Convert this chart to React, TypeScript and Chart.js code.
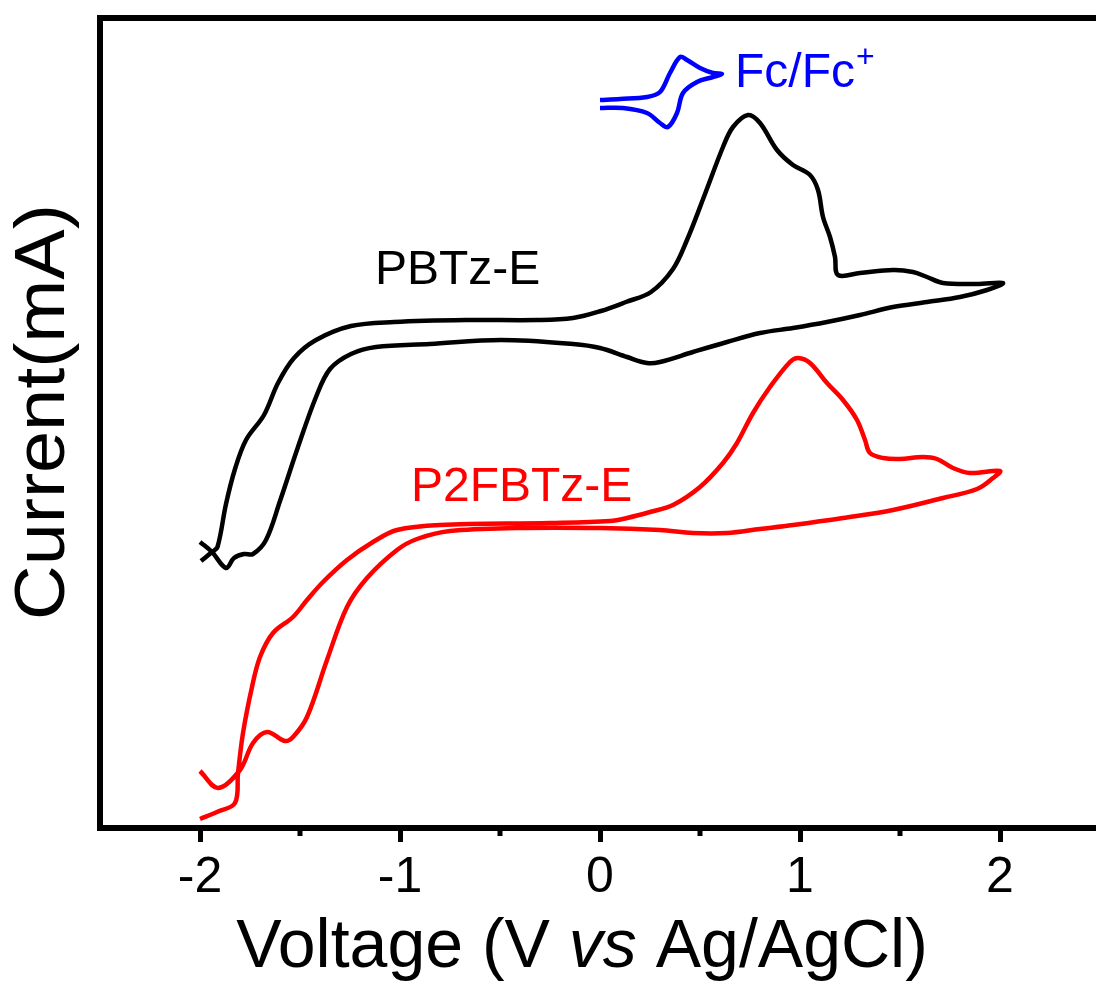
import React, { useEffect, useRef } from 'react';
import { Chart, registerables } from 'chart.js';

Chart.register(...registerables);

// PBTz-E cyclic voltammogram (V vs Ag/AgCl, current in arbitrary units)
const pbtzV = [
  -1.995, -1.94, -1.9125, -1.87, -1.825, -1.77, -1.68, -1.61, -1.53, -1.42, -1.245, -1.03, -0.67, -0.315,
  -0.135, 0.005, 0.13, 0.255, 0.365, 0.435, 0.525, 0.615, 0.665, 0.74, 0.8, 0.885, 0.965, 1.05, 1.09,
  1.115, 1.15, 1.175, 1.19, 1.3, 1.465, 1.565, 1.635, 1.715, 1.885, 2.015,
  1.935, 1.8, 1.635, 1.465, 1.3, 1.135, 0.965, 0.8, 0.635, 0.465, 0.3, 0.235, 0.135, 0.0, -0.135,
  -0.495, -0.85, -1.12, -1.245, -1.35, -1.42, -1.51, -1.6, -1.67, -1.735, -1.78, -1.83, -1.87, -1.94, -2.0,
];
const pbtzI = [
  267, 276, 281, 324, 359, 388, 413, 445, 470, 488, 502, 506, 508, 508,
  510, 517, 526, 536, 559, 588, 634, 681, 701, 713, 705, 678, 663, 653, 638,
  611, 591, 571, 553, 555, 558, 556, 551, 545, 544, 545,
  538, 531, 526, 521, 513, 506, 500, 495, 486, 476, 466, 465, 471, 480, 484,
  488, 484, 481, 474, 459, 431, 381, 327, 288, 274, 274, 270, 260, 276, 286,
];

// P2FBTz-E cyclic voltammogram
const p2fV = [
  -2.0, -1.915, -1.825, -1.81, -1.785, -1.74, -1.7, -1.635, -1.535, -1.465, -1.385, -1.265, -1.135, -1.015,
  -0.8, -0.25, 0.05, 0.135, 0.25, 0.365, 0.5, 0.615, 0.685, 0.765, 0.85, 0.95, 0.99, 1.05, 1.135, 1.215,
  1.285, 1.325, 1.35, 1.415, 1.5, 1.615, 1.685, 1.765, 1.85, 2.0,
  1.965, 1.885, 1.715, 1.465, 1.215, 0.965, 0.8, 0.635, 0.465, 0.3, 0.0, -0.415, -0.75, -0.915, -1.015,
  -1.165, -1.265, -1.365, -1.465, -1.535, -1.575, -1.665, -1.735, -1.8, -1.91, -2.0,
];
const p2fI = [
  9, 16, 25, 55, 95, 141, 171, 195, 211, 228, 246, 268, 286, 298,
  303, 305, 307, 310, 316, 323, 341, 365, 385, 415, 441, 466, 470, 465, 445, 428,
  408, 388, 375, 370, 369, 371, 369, 360, 355, 357,
  350, 339, 330, 318, 310, 303, 299, 295, 295, 298, 300, 300, 297, 289, 278,
  250, 221, 168, 111, 91, 87, 96, 85, 58, 40, 57,
];

// Fc/Fc+ reference inset
const fcV = [0.0, 0.1, 0.235, 0.3, 0.35, 0.4, 0.435, 0.5, 0.565, 0.61, 0.565, 0.485, 0.415, 0.385, 0.34, 0.3, 0.235, 0.115, 0.0];
const fcI = [728, 729, 731, 736, 755, 771, 768, 760, 755, 754, 751, 746, 735, 715, 701, 705, 715, 720, 720];

const majorTicks = [-2, -1, 0, 1, 2];
const minorTicks = [-1.5, -0.5, 0.5, 1.5];

const FONT = '"Liberation Sans", Arial, Helvetica, sans-serif';

function toPoints(v: number[], i: number[]) {
  return v.map((x, k) => ({ x, y: i[k] }));
}

const decorPlugin = {
  id: 'decor',
  afterDatasetsDraw(chart: any) {
    const { ctx, chartArea: a, scales } = chart;
    const xs = scales.x;
    const ys = scales.y;
    ctx.save();
    // frame
    ctx.strokeStyle = '#000';
    ctx.lineWidth = 6;
    ctx.strokeRect(a.left, a.top, a.right - a.left, a.bottom - a.top);
    // minor ticks
    ctx.lineWidth = 5;
    ctx.lineCap = 'butt';
    for (const v of minorTicks) {
      const px = Math.round(xs.getPixelForValue(v));
      ctx.beginPath();
      ctx.moveTo(px, a.bottom);
      ctx.lineTo(px, a.bottom + 8);
      ctx.stroke();
    }
    // curve labels
    ctx.textAlign = 'left';
    ctx.textBaseline = 'alphabetic';
    ctx.font = `48px ${FONT}`;
    ctx.fillStyle = '#000';
    ctx.fillText('PBTz-E', xs.getPixelForValue(-1.125), ys.getPixelForValue(544));
    ctx.fillStyle = '#ff0000';
    ctx.fillText('P2FBTz-E', xs.getPixelForValue(-0.945), ys.getPixelForValue(327));
    ctx.fillStyle = '#0000ff';
    ctx.font = `48px ${FONT}`;
    const fx = xs.getPixelForValue(0.675);
    const fy = ys.getPixelForValue(741);
    ctx.fillText('Fc/Fc', fx, fy);
    const w = ctx.measureText('Fc/Fc').width;
    ctx.font = `32px ${FONT}`;
    ctx.fillText('+', fx + w + 1, fy - 20);

    // x-axis title with italic "vs"
    const parts = [
      { t: 'Voltage (V ', it: false },
      { t: 'vs', it: true },
      { t: ' Ag/AgCl)', it: false },
    ];
    const size = 68;
    let total = 0;
    const widths: number[] = [];
    for (const p of parts) {
      ctx.font = `${p.it ? 'italic ' : ''}${size}px ${FONT}`;
      const ww = ctx.measureText(p.t).width;
      widths.push(ww);
      total += ww;
    }
    let cx = 582 - total / 2;
    ctx.fillStyle = '#000';
    parts.forEach((p, k) => {
      ctx.font = `${p.it ? 'italic ' : ''}${size}px ${FONT}`;
      ctx.fillText(p.t, cx, 967);
      cx += widths[k];
    });

    // y-axis title
    ctx.save();
    ctx.translate(64, 412);
    ctx.rotate(-Math.PI / 2);
    ctx.scale(1.08, 1);
    ctx.textAlign = 'center';
    ctx.font = `70px ${FONT}`;
    ctx.fillText('Current(mA)', 0, 0);
    ctx.restore();

    ctx.restore();
  },
};

export default function App() {
  const ref = useRef<HTMLCanvasElement | null>(null);
  useEffect(() => {
    if (!ref.current) return;
    const line = (label: string, v: number[], i: number[], color: string) => ({
      label,
      data: toPoints(v, i),
      showLine: true,
      borderColor: color,
      backgroundColor: color,
      borderWidth: 4.5,
      pointRadius: 0,
      tension: 0.35,
      fill: false,
    });
    const chart = new Chart(ref.current, {
      type: 'scatter',
      data: {
        datasets: [
          line('PBTz-E', pbtzV, pbtzI, '#000000'),
          line('P2FBTz-E', p2fV, p2fI, '#ff0000'),
          line('Fc/Fc+', fcV, fcI, '#0000ff'),
        ],
      },
      options: {
        animation: false,
        responsive: false,
        devicePixelRatio: 1,
        layout: { padding: { left: 100, right: 10, top: 18, bottom: 0 } },
        plugins: { legend: { display: false }, tooltip: { enabled: false } },
        scales: {
          x: {
            type: 'linear',
            min: -2.5,
            max: 2.5,
            afterFit: (s: any) => {
              s.height = 155;
            },
            afterBuildTicks: (s: any) => {
              s.ticks = majorTicks.map((v) => ({ value: v }));
            },
            ticks: {
              stepSize: 1,
              includeBounds: false,
              autoSkip: false,
              maxRotation: 0,
              padding: 6,
              color: '#000',
              font: { family: FONT, size: 50 },
              callback: (v: any) => String(v),
            },
            grid: {
              drawOnChartArea: false,
              drawTicks: true,
              tickLength: 14,
              tickWidth: 5,
              tickColor: '#000',
            },
            border: { display: false },
          },
          y: {
            type: 'linear',
            display: false,
            min: 0,
            max: 810,
          },
        },
      },
      plugins: [decorPlugin],
    });
    return () => chart.destroy();
  }, []);
  return (
    <div style={{ position: 'fixed', left: 0, top: 0, width: 1096, height: 983, overflow: 'hidden', background: '#fff' }}>
      <canvas ref={ref} width={1110} height={983} style={{ width: 1110, height: 983, display: 'block' }} />
    </div>
  );
}
